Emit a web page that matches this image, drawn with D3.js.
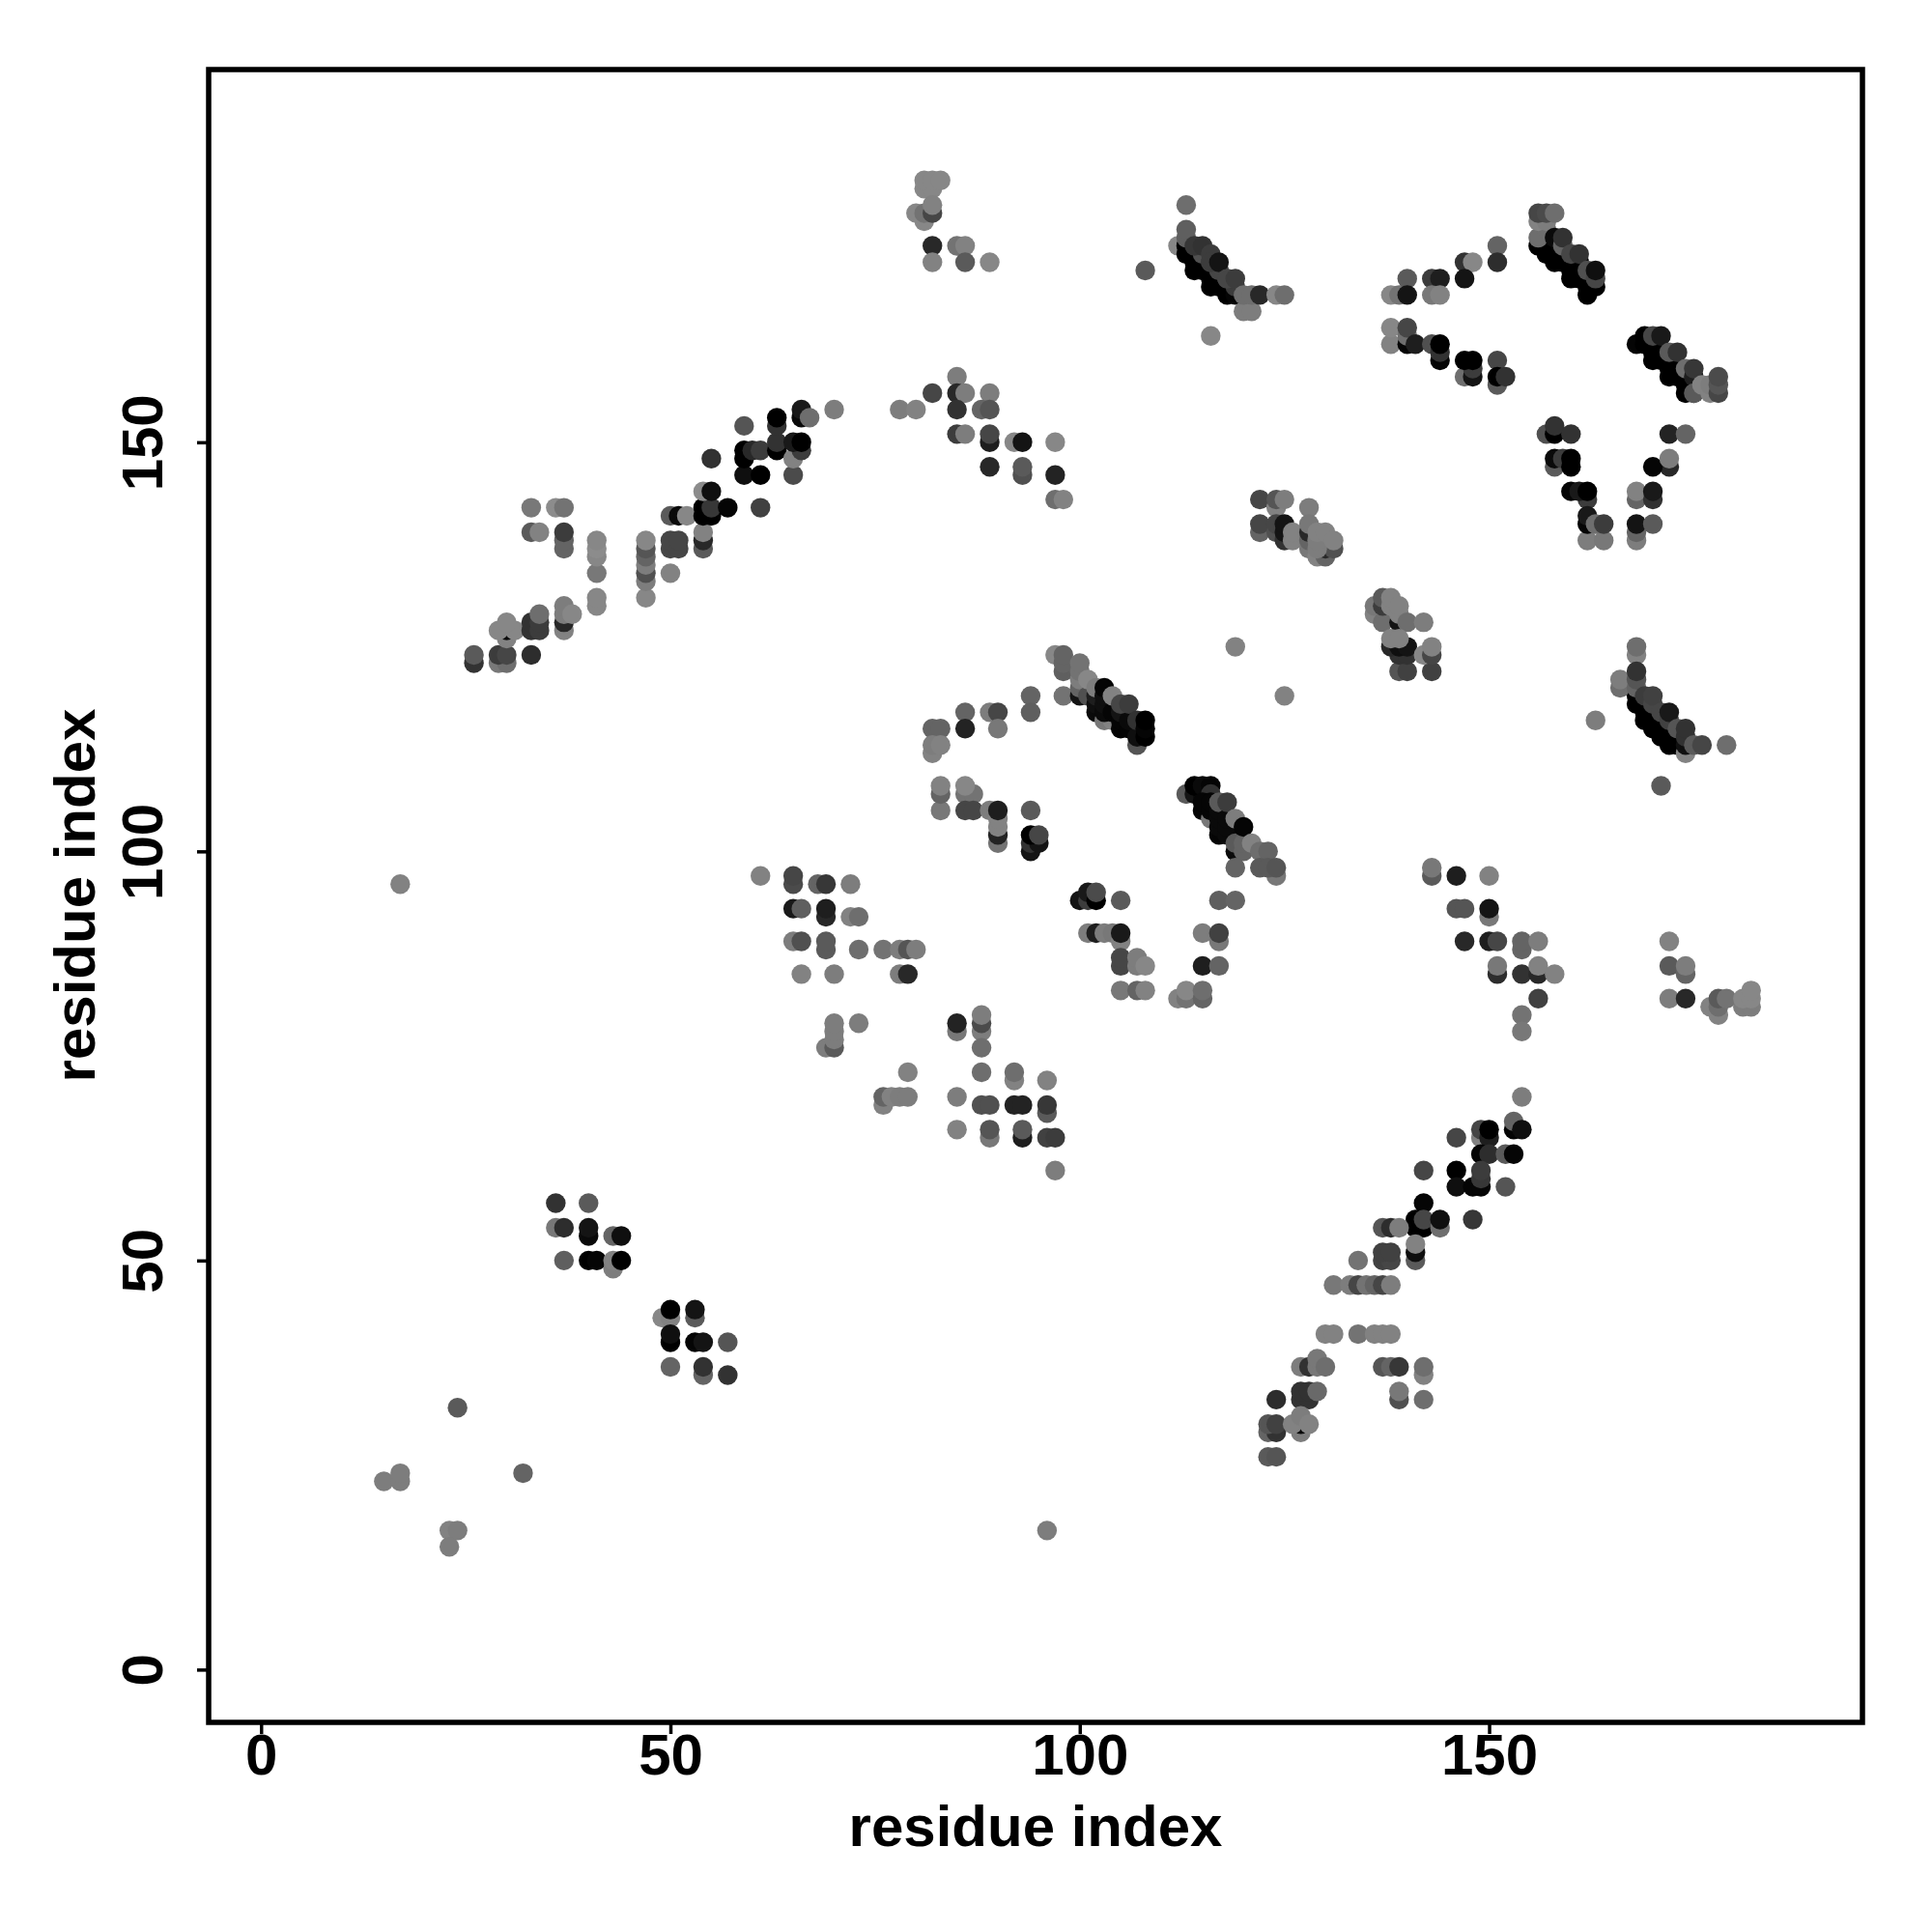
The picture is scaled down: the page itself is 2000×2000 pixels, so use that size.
<!DOCTYPE html>
<html><head><meta charset="utf-8">
<script src="https://cdnjs.cloudflare.com/ajax/libs/d3/7.8.5/d3.min.js"></script>
<style>html,body{margin:0;padding:0;background:#fff}svg{display:block}</style></head>
<body><svg id="c" width="2000" height="2000"></svg>
<script>
const xTicks=[0,50,100,150], yTicks=[0,50,100,150];
const xLabel="residue index", yLabel="residue index";
// each contact: [residue i, residue j, grey level]
const isolated=[[15,23,125],[17,23,125],[17,24,125],[24,32,90],[32,24,100],[23,17,130],[24,17,125],[23,15,125],[96,17,125],[17,96,130],[108,171,90],[116,163,135],[119,125,130],[125,119,130],[163,116,125],[171,108,90]];
const upperDiag=[[26,123,51],[26,124,90],[29,123,120],[30,123,110],[29,124,60],[30,124,70],
[30,126,130],[30,127,10],[29,127,135],[31,127,135],[30,128,135],
[33,127,50],[33,128,50],[34,127,60],[34,128,60],[34,129,110],[33,124,45],
[37,127,130],[37,128,40],[37,129,125],[37,130,125],[38,129,135],
[33,142,120],[33,139,90],[34,139,130],[36,142,140],[37,142,115],[37,137,100],[37,138,100],[37,139,60],
[41,130,135],[41,131,135],[41,134,120],[41,136,135],[41,137,140],[41,138,135],
[47,131,135],[47,133,125],[47,134,80],[47,135,125],[47,136,100],[47,137,85],[47,138,135],
[50,134,130],[50,137,70],[50,138,70],[51,137,70],[51,138,70],[50,141,90],[51,141,10],[52,141,135],
[54,137,90],[54,138,40],[54,139,130],[54,141,0],[54,142,0],[55,141,0],[55,142,55],[54,144,140],[55,144,15],[57,142,5],[55,148,50],
[59,146,15],[59,148,0],[59,149,0],[60,149,40],[61,149,60],[61,146,0],[61,142,65],[59,152,85],
[63,149,0],[63,150,50],[63,152,50],[63,153,0],[65,146,75],[65,148,130],[66,149,60],[65,150,25],[66,150,0],[66,153,10],[66,154,25],[67,153,110],[70,154,125]];
const topLeft=[[81,181,135],[82,181,135],[81,182,135],[82,182,135],[83,182,135],[81,177,135],[80,178,135],[81,178,115],[82,178,70],[82,179,130],
[82,174,40],[82,172,130],[85,174,115],[86,174,130],[86,172,90],[89,172,135]];
const midTop=[[78,154,125],[80,154,130],[82,156,70],[85,158,125],[85,156,40],[86,156,125],[89,156,125],[85,154,50],[88,154,100],[89,154,85],
[85,151,60],[86,151,125],[89,150,30],[89,151,70],[92,150,135],[93,150,20],[97,150,135],[89,147,40],[93,146,80],[93,147,90],[97,146,35],[97,143,110],[98,143,130]];
const bandA=[[113,179,110],[112,174,135],[113,173,0],[113,174,0],[114,171,0],[114,172,0],[114,173,0],[115,171,0],[115,172,0],[116,169,0],[116,170,0],[116,171,0],[117,169,0],[117,170,0],[118,168,0],[118,169,0],[119,168,5],
[113,175,95],[113,176,95],[115,173,80],[116,172,60],[119,169,60],[118,170,70],[117,171,70],[114,174,55],[115,174,50],[116,173,60],[116,172,60],[117,172,20],[118,170,70],[119,170,60],
[120,166,125],[121,166,125],[120,168,110],[121,168,110],[122,168,40],[124,168,135],[125,168,110]];
const bandTopRight=[[138,168,135],[139,168,115],[140,170,90],[140,168,20],[143,170,60],[144,170,30],[143,168,120],[144,168,130],[147,172,50],[148,172,135],[147,170,20],[151,174,100],[151,172,45],
[138,162,130],[138,164,135],[140,162,5],[140,163,110],[140,164,70],[141,162,30],[143,162,80],[144,160,5],[144,161,50],[144,162,0],
[147,158,110],[148,158,20],[148,159,60],[147,160,0],[148,160,0],[151,157,90],[151,160,70],[151,158,0],[152,158,50]];
const bandB=[[156,174,0],[157,173,0],[157,174,0],[158,172,0],[158,173,0],[158,174,0],[159,172,0],[159,173,0],[160,170,0],[160,171,0],[160,172,0],[161,170,0],[161,171,0],[161,172,0],[162,168,0],[162,169,0],[162,170,0],[163,169,0],
[156,175,110],[157,176,110],[156,177,130],[157,177,125],[156,178,70],[157,178,75],[158,178,110],[158,175,10],[159,174,100],[159,175,50],[160,173,70],[161,173,50],[162,171,80],[163,170,70],[163,171,15]];
const bandC=[[168,162,5],[169,162,0],[169,163,0],[170,160,0],[170,161,0],[170,162,0],[171,160,0],[171,161,0],[172,158,0],[172,159,0],[172,160,0],[173,158,0],[173,159,0],[174,156,0],[174,157,0],[175,156,10],
[170,163,70],[171,163,25],[172,161,90],[173,161,50],[174,159,110],[175,158,30],[175,159,55],[175,156,90],[176,157,130],[177,156,130],[177,157,125],[178,156,70],[178,157,85],[178,158,75]];
const vShape=[[157,151,80],[158,151,0],[158,152,50],[160,151,50],[158,147,90],[158,148,10],[159,148,60],[160,147,0],[160,148,0],
[162,143,60],[160,144,5],[161,144,25],[162,144,0],[162,138,125],[164,138,120],[162,140,5],[162,141,25],[163,140,110],[164,140,60],
[168,138,125],[168,139,100],[168,140,20],[170,140,90],[168,143,100],[168,144,130],[170,143,50],[170,144,25],[172,147,40],[170,147,5],[172,148,125],[172,151,35],[174,151,100]];
const clusterOne=[[122,143,70],[124,142,130],[124,143,85],[125,143,125],[128,142,125],[122,139,100],[122,140,70],[124,139,80],[124,140,70],[125,138,50],[125,139,20],[125,140,20],[126,138,130],[126,139,130],
[128,137,120],[128,138,100],[128,139,40],[128,140,120],[129,136,130],[130,136,100],[130,137,40],[131,137,80],[129,137,125],[129,138,125],[129,139,130],[130,139,130],[131,138,130]];
const clusterTwo=[[136,129,130],[136,130,120],[137,128,110],[137,130,60],[137,131,90],[139,128,20],[138,130,130],[138,131,130],[139,129,130],[139,130,130],[140,128,110],[142,128,125],
[139,122,85],[140,122,65],[143,122,65],[139,124,50],[140,124,50],[138,125,40],[139,125,15],[140,125,20],[138,126,130],[139,126,130],[142,124,135],[143,124,70],[143,125,130]];
const bandD=[[168,118,0],[168,119,0],[169,116,0],[169,117,0],[170,115,0],[170,116,0],[171,114,0],[171,115,0],[172,113,0],[172,114,0],[173,113,0],
[174,112,130],[174,113,15],[168,124,130],[168,125,110],[166,120,110],[166,121,125],[168,120,100],[168,121,85],[168,122,50],[169,119,60],[170,118,70],[170,119,65],[171,117,70],[172,116,65],[172,117,25],[173,115,85],[174,114,50],[174,115,50],[175,113,90],[176,113,70],[179,113,110]];
const lowerRight=[[143,97,90],[143,98,120],[146,97,30],[150,97,130],[146,93,85],[147,93,85],[150,92,120],[150,93,20],[147,89,40],[150,89,30],[151,89,70],[154,88,100],[154,89,100],[156,89,125],
[151,85,45],[151,86,120],[154,85,50],[156,85,40],[156,86,130],[158,85,130],[156,82,65],[154,80,115],[154,78,120],
[172,89,130],[172,86,90],[174,85,100],[174,86,125],[172,82,125],[174,82,40],[177,81,130],[178,80,130],[178,81,110],[178,82,90],[179,82,115],[181,81,125],[182,81,125],[181,82,135],[182,82,135],[182,83,135]];
const centreBandA=[[97,124,135],[98,122,95],[98,123,100],[98,124,100],[98,119,115],[100,119,20],[100,120,100],[100,121,125],[100,122,115],[100,123,115],[101,119,80],[101,121,135],[102,117,10],[102,118,15],[102,119,30],[102,120,125],
[103,116,120],[104,116,130],[103,117,10],[103,118,15],[103,119,15],[103,120,5],[104,117,5],[104,119,130],[107,113,85],[105,115,5],[105,116,5],[105,117,20],[106,115,5],[106,116,10],[105,118,70],[106,118,60],[107,114,15],[107,116,50],[108,114,0],[108,115,5],[108,116,0]];
const centreBandB=[[113,107,90],[114,107,20],[115,107,10],[114,108,0],[115,108,10],[116,108,5],[116,107,50],[115,105,5],[115,106,5],[116,104,120],[116,105,5],[116,106,5],[117,102,5],[117,103,10],[117,104,10],[117,105,10],[117,106,90],[118,102,10],[118,103,10],[118,104,10],[118,106,60],
[119,100,10],[119,101,90],[119,104,125],[120,100,100],[120,101,100],[120,103,5],[121,101,130],[122,100,110],[123,100,100],[119,98,100],[124,97,120],[122,98,90],[123,98,90],[124,98,85]];
const centreLeft=[[82,115,100],[83,115,100],[82,112,130],[82,113,125],[83,113,130],[86,117,100],[86,115,35],[89,117,125],[90,117,70],[90,115,120],[94,119,100],[94,117,95],
[83,105,120],[83,107,100],[83,108,130],[86,107,115],[87,107,115],[86,108,135],[86,105,70],[87,105,70],[89,105,125],[90,101,115],[90,102,35],[90,103,130],[90,104,130],[90,105,30],[94,105,90],
[94,100,20],[94,101,50],[95,101,20],[94,102,0],[95,102,70]];
const centreLower=[[100,94,20],[101,94,60],[101,95,25],[102,94,0],[102,95,75],[105,94,90],[117,94,95],[119,94,100],
[101,90,125],[102,90,30],[103,90,125],[104,90,120],[105,89,130],[105,90,25],[115,90,125],[117,89,120],[117,90,65],
[105,86,70],[105,87,70],[107,86,125],[107,87,125],[108,86,135],[115,86,30],[117,86,100],
[105,83,120],[107,83,100],[108,83,130],[112,82,130],[113,82,115],[113,83,135],[115,82,100],[115,83,110]];
const midLeft=[[61,97,130],[65,96,75],[65,97,70],[68,96,100],[69,96,55],[72,96,125],[65,93,25],[66,93,95],[69,92,40],[69,93,30],[72,92,130],[73,92,110],
[65,89,125],[66,89,80],[69,88,90],[69,89,90],[73,88,110],[76,88,115],[78,88,125],[79,88,85],[80,88,125],[66,85,130],[70,85,125],[78,85,125],[79,85,40],
[69,76,125],[70,76,90],[70,77,125],[70,78,125],[70,79,125],[73,79,125],[79,73,130],[76,69,130],[76,70,100],[77,70,130],[78,70,125],[79,70,125]];
const midLower=[[85,78,120],[85,79,35],[88,78,125],[88,79,75],[88,80,125],[88,76,110],[88,73,110],[92,72,130],[92,73,110],[96,72,130],
[85,70,125],[88,69,80],[89,69,80],[92,69,35],[93,69,35],[96,68,90],[96,69,55],[85,66,130],[89,65,120],[89,66,85],[93,65,30],[93,66,90],[96,65,65],[97,65,60],[97,61,125]];
const lowerDiag=[[154,70,125],[153,66,5],[153,67,100],[154,66,15],[149,65,130],[146,65,70],[149,66,70],[150,65,30],[150,66,0],
[149,63,5],[150,63,45],[152,63,90],[153,63,5],[142,61,70],[146,61,0],[146,59,15],[148,59,5],[149,59,5],[149,60,55],[149,61,60],[152,59,85],
[142,57,5],[148,55,55],[141,54,0],[142,54,0],[141,55,0],[142,55,70],[144,54,110],[144,55,15],[137,54,85],[138,54,45],[139,54,125],
[134,50,115],[137,50,65],[138,50,70],[137,51,65],[138,51,65],[141,50,90],[141,51,15],[141,52,130],
[131,47,120],[133,47,125],[134,47,70],[135,47,115],[136,47,100],[137,47,70],[138,47,125],
[130,41,130],[131,41,130],[134,41,115],[136,41,130],[137,41,130],[138,41,130],
[127,37,125],[128,37,50],[129,37,120],[129,38,120],[130,37,110],[137,37,85],[138,37,100],[139,37,55],[142,36,130],[142,37,110],
[127,33,50],[128,33,50],[127,34,50],[128,34,50],[129,34,105],[124,33,45],[139,33,80],[139,34,120],[142,33,110],
[123,29,100],[124,29,50],[123,30,85],[124,30,65],[127,29,125],[127,30,5],[126,30,130],[127,31,125],[128,30,130],[123,26,90],[124,26,85]];
const lowerLeft=[[36,57,50],[40,57,90],[36,54,120],[37,54,45],[40,53,10],[40,54,20],[43,53,100],[44,53,15],[37,50,95],[40,50,0],[41,50,5],[43,49,125],[43,50,130],[44,50,0],
[49,43,135],[50,43,130],[50,44,0],[53,43,90],[53,44,20],[50,40,0],[50,41,15],[53,40,5],[54,40,20],[57,40,85],[50,37,100],[54,36,100],[54,37,50],[57,36,50]];
const contacts=[isolated,upperDiag,topLeft,midTop,bandA,bandTopRight,bandB,bandC,vShape,clusterOne,clusterTwo,bandD,lowerRight,centreBandA,centreBandB,centreLeft,centreLower,midLeft,midLower,lowerDiag,lowerLeft].flat();

const box={l:216,r:1928,t:72,b:1783};
const x=d3.scaleLinear().domain([-6.4,195.6]).range([box.l,box.r]);
const y=d3.scaleLinear().domain([-6.45,195.55]).range([box.b,box.t]);
const svg=d3.select("#c");
const font="'Liberation Sans',Arial,sans-serif";

svg.append("g").selectAll("circle").data(contacts).join("circle")
 .attr("cx",d=>x(d[0])).attr("cy",d=>y(d[1])).attr("r",10.2)
 .attr("fill",d=>d3.rgb(d[2],d[2],d[2]));

svg.append("rect").attr("x",box.l).attr("y",box.t).attr("width",box.r-box.l).attr("height",box.b-box.t)
 .attr("fill","none").attr("stroke","#000").attr("stroke-width",5.5);

const gx=svg.append("g").attr("transform",`translate(0,${box.b})`).call(d3.axisBottom(x).tickValues(xTicks).tickSize(12).tickPadding(-1));
const gy=svg.append("g").attr("transform",`translate(${box.l},0)`).call(d3.axisLeft(y).tickValues(yTicks).tickSize(12).tickPadding(3));
[gx,gy].forEach(g=>{g.select(".domain").remove();g.selectAll("line").attr("stroke","#000").attr("stroke-width",3.5);
 g.selectAll("text").attr("fill","#000").attr("font-family",font).attr("font-weight","bold").attr("font-size",60);});
gy.selectAll("text").attr("x",0).attr("y",0).attr("dy",0).attr("text-anchor","middle").attr("transform","translate(-48,0) rotate(-90)");
svg.append("text").attr("x",1072).attr("y",1911).attr("text-anchor","middle").attr("font-family",font).attr("font-weight","bold").attr("font-size",60).text(xLabel);
svg.append("text").attr("transform","translate(98,927) rotate(-90)").attr("text-anchor","middle").attr("font-family",font).attr("font-weight","bold").attr("font-size",60).text(yLabel);
</script></body></html>
